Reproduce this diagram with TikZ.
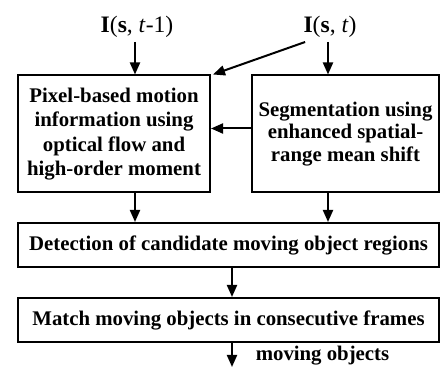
\documentclass[tikz,border=0pt]{standalone}
\usepackage{fontspec}
\setmainfont{Liberation Serif}
\usetikzlibrary{arrows.meta,calc}
\begin{document}
\begin{tikzpicture}[x=0.5pt,y=-0.5pt,
 box/.style={draw,line width=1pt,inner sep=0pt,align=center,font=\bfseries\fontsize{10.4}{12.2}\selectfont},
 arr/.style={line width=1pt,-{Triangle[length=6pt,width=5pt]}},
 inp/.style={inner sep=2pt,anchor=south,font=\fontsize{11.8}{14}\selectfont},
 lbl/.style={inner sep=0pt,font=\bfseries\fontsize{10.4}{12}\selectfont}]
\useasboundingbox (0,0) rectangle (440,367);
\node[box,minimum width=96pt,minimum height=58.5pt] (b1) at (114,134)
  {Pixel-based motion\\information using\\optical flow and\\high-order moment};
\node[box,minimum width=93.5pt,minimum height=58.5pt,font=\bfseries\fontsize{10.4}{11.3}\selectfont] (b2) at (345.5,134)
  {Segmentation using\\enhanced spatial-\\range mean shift};
\node[box,minimum width=210.5pt,minimum height=22pt] (det) at (228.5,245)
  {Detection of candidate moving object regions};
\node[box,minimum width=210.5pt,minimum height=22pt] (match) at (228.5,320)
  {Match moving objects in consecutive frames};
\node[inp] (in1) at (137,42) {\textbf{I}(\textbf{s}, \textit{t}-1)};
\node[inp] (in2) at (330,42) {\textbf{I}(\textbf{s}, \textit{t})};
\coordinate (xl) at (135,0);
\coordinate (xr) at (328,0);
\coordinate (xm) at (232,0);
\coordinate (out) at (232,367);
\node[lbl] (mo) at (322.5,356) {moving objects};
\draw[arr] (in1.south -| xl) -- (b1.north -| xl);
\draw[arr] (in2.south -| xr) -- (b2.north -| xr);
\draw[arr] ($(in2.south west)+(6,0)$) -- ($(b1.north east)+(2,0)$);
\draw[arr] ([yshift=2.75pt]b2.west) -- ([yshift=2.75pt]b1.east);
\draw[arr] (b1.south -| xl) -- (det.north -| xl);
\draw[arr] (b2.south -| xr) -- (det.north -| xr);
\draw[arr] (det.south -| xm) -- (match.north -| xm);
\draw[arr] (match.south -| xm) -- (out);
\end{tikzpicture}
\end{document}
